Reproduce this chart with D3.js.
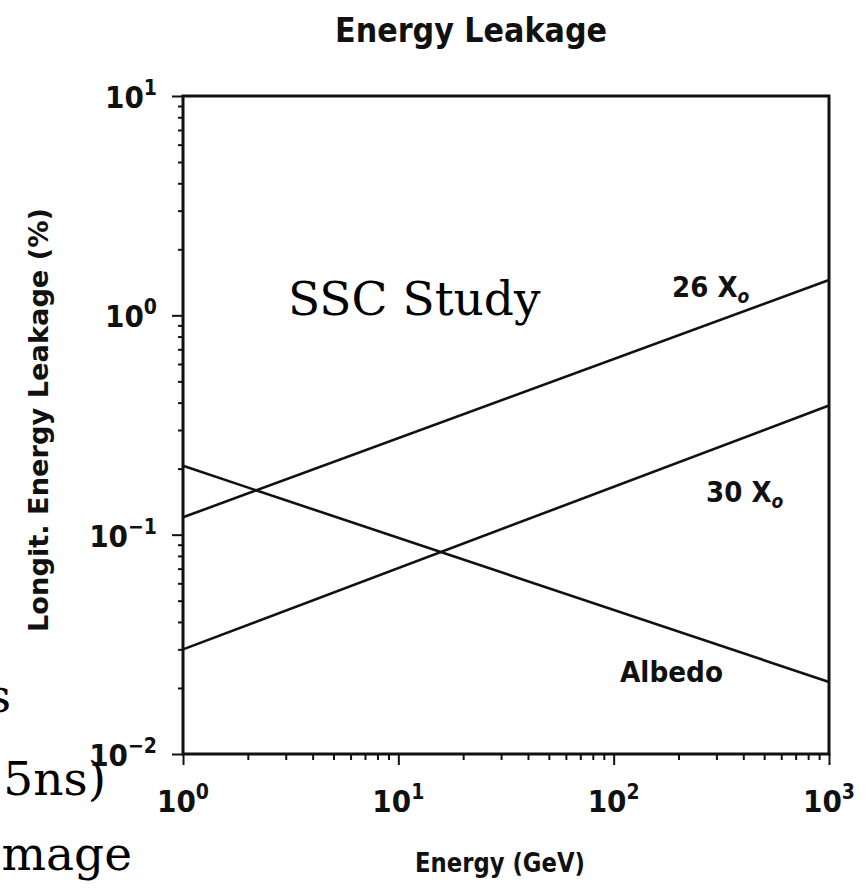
<!DOCTYPE html>
<html>
<head>
<meta charset="utf-8">
<script src="https://cdn.jsdelivr.net/npm/d3@7"></script>
<style>
  body { margin: 0; background: #fff; }
  .plot { font-family: "DejaVu Sans Condensed", "DejaVu Sans", sans-serif; font-stretch: condensed; font-weight: bold; }
  .plot .serif { font-family: "DejaVu Serif", serif; font-size: 47px; font-weight: normal; font-stretch: normal; }
</style>
</head>
<body>
<div class="graph"></div>
<script>
// values
var energy = [1, 1000];
var leak26 = [0.12, 1.45];
var leak30 = [0.030, 0.388];
var albedo = [0.206, 0.0213];
var seriesNames = ["26 X", "30 X", "Albedo"];
var xMajor = [1, 10, 100, 1000];
var yMajor = [0.01, 0.1, 1, 10];

var W = 867, H = 890;
var box = {left: 183, right: 829, top: 96, bottom: 754};

var svg = d3.select(".graph").append("svg")
    .attr("width", W)
    .attr("height", H)
    .attr("class", "plot");

var xScale = d3.scaleLog().domain([1, 1000]).range([box.left, box.right]);
var yScale = d3.scaleLog().domain([0.01, 10]).range([box.bottom, box.top]);

// all log ticks 1..9 per decade
function logTicks(major) {
    var t = [];
    major.forEach(function(m, i) {
        if (i == major.length - 1) { t.push(m); return; }
        for (var k = 1; k < 10; k++) t.push(m * k);
    });
    return t;
}
function isMajor(d) { return Math.abs(Math.log10(d) - Math.round(Math.log10(d))) < 1e-6; }

var xAxis = d3.axisBottom(xScale).tickValues(logTicks(xMajor)).tickFormat("").tickSizeOuter(0);
var yAxis = d3.axisLeft(yScale).tickValues(logTicks(yMajor)).tickFormat("").tickSizeOuter(0);

var gx = svg.append("g")
    .attr("transform", "translate(0," + box.bottom + ")")
    .call(xAxis);
var gy = svg.append("g")
    .attr("transform", "translate(" + box.left + ",0)")
    .call(yAxis);

[gx, gy].forEach(function(g) {
    g.select(".domain").remove();
    g.selectAll(".tick line")
        .attr("stroke", "#111")
        .attr("stroke-width", 2);
});
gx.selectAll(".tick line").attr("y2", function(d) { return isMajor(d) ? 11 : 6; });
gy.selectAll(".tick line").attr("x2", function(d) { return isMajor(d) ? -11 : -5; });

// frame
svg.append("rect")
    .attr("x", box.left)
    .attr("y", box.top)
    .attr("width", box.right - box.left)
    .attr("height", box.bottom - box.top)
    .attr("fill", "none")
    .attr("stroke", "#111")
    .attr("stroke-width", 3);

// tick labels as 10 with exponent
function expLabel(x, y, anchor, e) {
    var t = svg.append("text")
        .attr("x", x)
        .attr("y", y)
        .attr("text-anchor", anchor)
        .attr("font-size", 31)
        .attr("fill", "#111");
    t.append("tspan").text("10");
    t.append("tspan").attr("font-size", 21).attr("dy", -13).text(e);
}
xMajor.forEach(function(d) {
    expLabel(xScale(d), 812, "middle", String(Math.round(Math.log10(d))));
});
yMajor.forEach(function(d) {
    var e = Math.round(Math.log10(d));
    expLabel(157, yScale(d) + 12, "end", e < 0 ? "\u2212" + (-e) : String(e));
});

// data lines
var line = d3.line()
    .x(function(d, i) { return xScale(energy[i]); })
    .y(function(d) { return yScale(d); });

[leak26, leak30, albedo].forEach(function(s) {
    svg.append("path")
        .attr("d", line(s))
        .attr("fill", "none")
        .attr("stroke", "#111")
        .attr("stroke-width", 2.6);
});

// line labels
function radLabel(x, y, txt) {
    var t = svg.append("text")
        .attr("x", x)
        .attr("y", y)
        .attr("font-size", 29)
        .attr("fill", "#111");
    t.append("tspan").text(txt);
    t.append("tspan").attr("font-size", 19).attr("dy", 6).attr("font-style", "italic").text("o");
}
radLabel(672, 297, seriesNames[0]);
radLabel(706, 502, seriesNames[1]);
svg.append("text")
    .attr("x", 620)
    .attr("y", 682)
    .attr("font-size", 29)
    .attr("textLength", 103)
    .attr("lengthAdjust", "spacingAndGlyphs")
    .attr("fill", "#111")
    .text(seriesNames[2]);

// titles
svg.append("text")
    .attr("x", 471)
    .attr("y", 42)
    .attr("text-anchor", "middle")
    .attr("font-size", 33)
    .attr("textLength", 272)
    .attr("lengthAdjust", "spacingAndGlyphs")
    .attr("fill", "#111")
    .text("Energy Leakage");

svg.append("text")
    .attr("x", 500)
    .attr("y", 872)
    .attr("text-anchor", "middle")
    .attr("font-size", 26)
    .attr("textLength", 170)
    .attr("lengthAdjust", "spacingAndGlyphs")
    .attr("fill", "#111")
    .text("Energy (GeV)");

svg.append("text")
    .attr("text-anchor", "middle")
    .attr("transform", "translate(48,420)rotate(-90)")
    .attr("font-size", 27)
    .attr("textLength", 424)
    .attr("lengthAdjust", "spacingAndGlyphs")
    .attr("fill", "#111")
    .text("Longit. Energy Leakage (%)");

// overlaid slide text
svg.append("text").attr("class", "serif").attr("x", 288).attr("y", 315).text("SSC Study");
svg.append("text").attr("class", "serif").attr("x", 11).attr("y", 712).attr("text-anchor", "end").text("s");
svg.append("text").attr("class", "serif").attr("x", 106).attr("y", 795).attr("text-anchor", "end").text("5ns)");
svg.append("text").attr("class", "serif").attr("x", 132).attr("y", 870).attr("text-anchor", "end").text("mage");
</script>
</body>
</html>
